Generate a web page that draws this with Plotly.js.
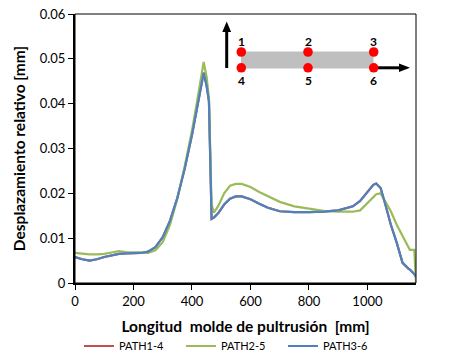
<!DOCTYPE html>
<html>
<head>
<meta charset="utf-8">
<script src="https://cdn.plot.ly/plotly-3.0.1.min.js"></script>
<style>html,body{margin:0;padding:0;background:#fff}#chart{width:462px;height:362px}</style>
</head>
<body>
<div id="chart"></div>
<script>
// Longitud molde de pultrusión [mm]
const longitud = [0, 25, 50, 75, 100, 125, 150, 175, 200, 225, 250, 275, 300, 325, 350, 375, 400, 420, 440, 450, 458, 467, 475, 490, 510, 530, 550, 570, 600, 630, 660, 700, 750, 800, 850, 900, 950, 975, 1000, 1020, 1030, 1045, 1060, 1080, 1100, 1120, 1140, 1145, 1160, 1166];

// Desplazamiento relativo [mm]
const path14 = [0.0058, 0.0053, 0.0050, 0.0053, 0.0058, 0.0062, 0.0065, 0.0066, 0.0067, 0.0067, 0.0070, 0.0080, 0.0102, 0.0139, 0.0190, 0.0255, 0.0330, 0.0400, 0.0469, 0.0440, 0.0406, 0.0143, 0.0146, 0.0156, 0.0175, 0.0188, 0.0193, 0.0193, 0.0187, 0.0177, 0.0168, 0.0160, 0.0158, 0.0158, 0.0159, 0.0162, 0.0171, 0.0183, 0.0204, 0.0219, 0.0222, 0.0212, 0.0178, 0.0130, 0.0090, 0.0045, 0.0032, 0.0030, 0.0020, 0.0014];
const path25 = [0.0067, 0.0065, 0.0064, 0.0064, 0.0065, 0.0068, 0.0071, 0.0069, 0.0068, 0.0067, 0.0067, 0.0073, 0.0091, 0.0130, 0.0188, 0.0260, 0.0340, 0.0415, 0.0493, 0.0460, 0.0410, 0.0175, 0.0157, 0.0172, 0.0200, 0.0217, 0.0221, 0.0221, 0.0214, 0.0203, 0.0193, 0.0181, 0.0171, 0.0166, 0.0161, 0.0159, 0.0159, 0.0162, 0.0178, 0.0192, 0.0198, 0.0200, 0.0184, 0.0160, 0.0130, 0.0104, 0.0080, 0.0074, 0.0074, 0.0000];
const path36 = [0.0058, 0.0053, 0.0050, 0.0053, 0.0058, 0.0062, 0.0065, 0.0066, 0.0067, 0.0067, 0.0070, 0.0080, 0.0102, 0.0139, 0.0190, 0.0255, 0.0330, 0.0400, 0.0469, 0.0440, 0.0406, 0.0143, 0.0146, 0.0156, 0.0175, 0.0188, 0.0193, 0.0193, 0.0187, 0.0177, 0.0168, 0.0160, 0.0158, 0.0158, 0.0159, 0.0162, 0.0171, 0.0183, 0.0204, 0.0219, 0.0222, 0.0212, 0.0178, 0.0130, 0.0090, 0.0045, 0.0032, 0.0030, 0.0020, 0.0014];

const seriesNames = ['PATH1-4', 'PATH2-5', 'PATH3-6'];
const seriesColors = ['#c0504d', '#9bbb59', '#4f81bd'];
const xTicks = [0, 200, 400, 600, 800, 1000];
const yTicks = [0, 0.01, 0.02, 0.03, 0.04, 0.05, 0.06];
const yTickText = ['0', '0.01', '0.02', '0.03', '0.04', '0.05', '0.06'];
const pointLabels = ['1', '2', '3', '4', '5', '6'];

const FONT = 'Lato, "Open Sans", sans-serif';
const M = {l: 75, r: 46, t: 14, b: 79, autoexpand: false};
const W = 462, H = 362;
const PW = W - M.l - M.r, PH = H - M.t - M.b;
const px = v => (v - M.l) / PW;
const py = v => (H - M.b - v) / PH;

const ys = [path14, path25, path36];
const traces = ys.map((y, i) => ({
  x: longitud, y: y, type: 'scatter', mode: 'lines', name: seriesNames[i],
  line: {color: seriesColors[i], width: 2.2}
}));

// inset diagram
const shapes = [
  {type: 'rect', xref: 'paper', yref: 'paper', x0: 0, x1: 1, y0: 0, y1: 1, line: {color: '#000', width: 1}, layer: 'above'},
  {type: 'rect', xref: 'paper', yref: 'paper', x0: px(241), x1: px(373.5), y0: py(68.5), y1: py(51.5), fillcolor: '#bfbfbf', line: {width: 0}},
  {type: 'line', xref: 'paper', yref: 'paper', x0: px(226.7), x1: px(226.7), y0: py(68), y1: py(30), line: {color: '#000', width: 3}},
  {type: 'path', xref: 'paper', yref: 'paper', path: `M ${px(222.3)} ${py(32)} L ${px(231.1)} ${py(32)} L ${px(226.7)} ${py(21.5)} Z`, fillcolor: '#000', line: {width: 0}},
  {type: 'line', xref: 'paper', yref: 'paper', x0: px(374), x1: px(401), y0: py(67.8), y1: py(67.8), line: {color: '#000', width: 3}},
  {type: 'path', xref: 'paper', yref: 'paper', path: `M ${px(399)} ${py(63.5)} L ${px(399)} ${py(72.1)} L ${px(410)} ${py(67.8)} Z`, fillcolor: '#000', line: {width: 0}}
];
const dotX = [241.3, 308, 373.7, 241.3, 308, 373.7];
const dotY = [52, 52, 52, 67.8, 67.8, 67.8];
const labY = [41, 41, 41, 80, 80, 80];
const r = 4.8;
const annotations = [];
for (let i = 0; i < 6; i++) {
  shapes.push({type: 'circle', xref: 'paper', yref: 'paper', x0: px(dotX[i] - r), x1: px(dotX[i] + r), y0: py(dotY[i] + r), y1: py(dotY[i] - r), fillcolor: '#ff0000', line: {width: 0}});
  annotations.push({xref: 'paper', yref: 'paper', x: px(dotX[i]), y: py(labY[i]), text: '<b>' + pointLabels[i] + '</b>', showarrow: false, xanchor: 'center', yanchor: 'middle', font: {family: FONT, size: 12, color: '#000'}});
}

const layout = {
  width: W, height: H,
  margin: M,
  paper_bgcolor: '#fff', plot_bgcolor: '#fff',
  showlegend: true,
  legend: {orientation: 'h', x: px(232), xanchor: 'center', y: py(346), yanchor: 'middle', entrywidth: 57, font: {family: FONT, size: 11, color: '#000'}},
  xaxis: {
    range: [0, 1166], tickvals: xTicks, ticktext: xTicks.map(String),
    showgrid: false, zeroline: false, showline: true, linecolor: '#000', linewidth: 2,
    ticks: 'outside', ticklen: 5, tickwidth: 1, tickcolor: '#000',
    tickfont: {family: FONT, size: 13, color: '#000'},
    title: {text: '<b>Longitud\u00a0 molde de pultrusión\u00a0 [mm]</b>', font: {family: FONT, size: 15.5, color: '#000'}, standoff: 14}
  },
  yaxis: {
    range: [0, 0.06], tickvals: yTicks, ticktext: yTickText,
    showgrid: false, zeroline: false, showline: true, linecolor: '#000', linewidth: 2,
    ticks: 'outside', ticklen: 5, tickwidth: 1, tickcolor: '#000',
    tickfont: {family: FONT, size: 13, color: '#000'},
    title: {text: '<b>Desplazamiento relativo [mm]</b>', font: {family: FONT, size: 15.5, color: '#000'}, standoff: 10}
  },
  shapes: shapes,
  annotations: annotations
};

Plotly.newPlot('chart', traces, layout, {staticPlot: true, displayModeBar: false});
</script>
</body>
</html>
